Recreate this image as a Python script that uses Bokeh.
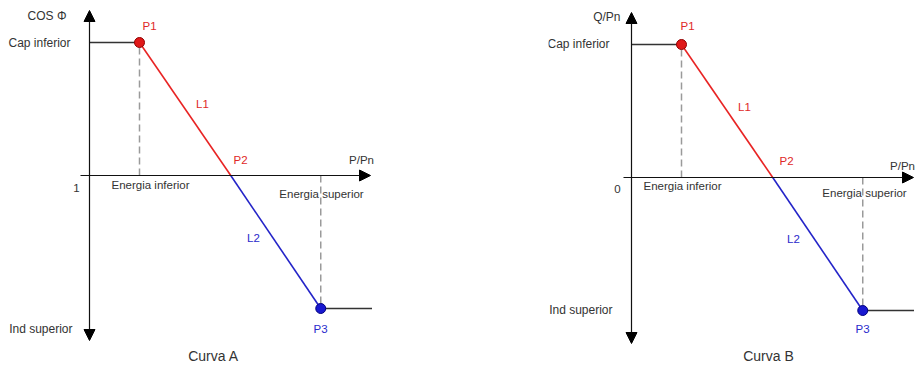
from bokeh.plotting import figure
from bokeh.layouts import row
from bokeh.models import Range1d, Arrow, NormalHead
from bokeh.core.properties import value
from bokeh.embed import file_html
from bokeh.resources import INLINE

# ---- data (schematic values, P/Pn on x, setpoint on y) ----
point_names = ["P1", "P2", "P3"]
point_x = [0.2, 0.565, 0.925]        # Energia inferior, P2, Energia superior
point_y = [1.0, 0.0, -1.0]           # Cap inferior, axis, Ind superior
x_end_values = [1.13, 1.13]          # end of the flat right segment per curve
curve_titles = ["Curva A", "Curva B"]
y_axis_titles = ["COS Φ", "Q/Pn"]
origin_labels = ["1", "0"]
level_labels = ["Cap inferior", "Ind superior"]
energy_labels = ["Energia inferior", "Energia superior"]
segment_labels = ["L1", "L2"]

H = 365
SX = 250.0   # px per unit x
SY = 133.0   # px per unit y
FONT = value("Liberation Sans")
DARK = "#333333"
RED = "#e02828"
BLUE = "#2a2acc"


def make_panel(i, width, ox, oy, lay):
    p = figure(width=width, height=H,
               x_range=Range1d(-ox / SX, (width - ox) / SX),
               y_range=Range1d(-(H - oy) / SY, oy / SY),
               toolbar_location=None, output_backend="svg",
               x_axis_type=None, y_axis_type=None, min_border=0,
               outline_line_color=None, background_fill_color="white",
               border_fill_color="white")
    p.xgrid.visible = False
    p.ygrid.visible = False

    def X(px):
        return px / SX

    def Y(py):
        return py / SY

    ei, p2, es = point_x
    cap, zero, ind = point_y

    # axes with arrowheads
    p.add_layout(Arrow(end=NormalHead(size=11, fill_color="black", line_color="black"),
                       start=None, x_start=X(lay["x_axis_start"]), y_start=0,
                       x_end=X(lay["x_axis_end"]), y_end=0,
                       line_color="#111111", line_width=1.2))
    p.add_layout(Arrow(end=NormalHead(size=11, fill_color="black", line_color="black"),
                       start=NormalHead(size=11, fill_color="black", line_color="black"),
                       x_start=0, y_start=Y(lay["y_axis_bottom"]),
                       x_end=0, y_end=Y(lay["y_axis_top"]),
                       line_color="#111111", line_width=1.2))

    # dashed drop lines
    p.segment(x0=[ei, es], y0=[zero, zero], x1=[ei, es], y1=[cap, ind],
              line_color="#9a9a9a", line_width=1.5, line_dash="7 4")

    # flat segments
    p.line([0, ei], [cap, cap], line_color="#333333", line_width=1.6)
    p.line([es, x_end_values[i]], [ind, ind], line_color="#333333", line_width=1.6)

    # sloped segments
    p.line([ei, p2], [cap, zero], line_color="#e82424", line_width=1.6)
    p.line([p2, es], [zero, ind], line_color="#2424c8", line_width=1.6)

    # points
    p.scatter([ei], [cap], size=10, fill_color="#e01818", line_color="#900000", line_width=1)
    p.scatter([es], [ind], size=10, fill_color="#1818d0", line_color="#000080", line_width=1)

    def txt(items, color, align, size="11.5px"):
        p.text(x=[X(a) for a, b, t in items], y=[Y(b) for a, b, t in items],
               text=[t for a, b, t in items], text_align=align,
               text_baseline="middle", text_font=FONT, text_font_size=size,
               text_color=color)

    # left labels (right-aligned)
    txt([(lay["ytitle"][0], lay["ytitle"][1], y_axis_titles[i]),
         (lay["cap"][0], lay["cap"][1], level_labels[0]),
         (lay["ind"][0], lay["ind"][1], level_labels[1])], DARK, "right", "12px")
    txt([(lay["origin"][0], lay["origin"][1], origin_labels[i]),
         (lay["einf"][0], lay["einf"][1], energy_labels[0]),
         (lay["esup"][0], lay["esup"][1], energy_labels[1])], DARK, "center")
    txt([(lay["ppn"][0], lay["ppn"][1], "P/Pn")], DARK, "center")
    txt([(lay["P1"][0], lay["P1"][1], point_names[0]),
         (lay["L1"][0], lay["L1"][1], segment_labels[0]),
         (lay["P2"][0], lay["P2"][1], point_names[1])], RED, "center")
    txt([(lay["L2"][0], lay["L2"][1], segment_labels[1]),
         (lay["P3"][0], lay["P3"][1], point_names[2])], BLUE, "center")
    txt([(lay["title"][0], lay["title"][1], curve_titles[i])], DARK, "center", "14px")
    return p


lay_a = dict(x_axis_start=-9, x_axis_end=281, y_axis_top=165, y_axis_bottom=-165,
             ytitle=(-23, 160), cap=(-19, 133), ind=(-17, -153), origin=(-13, -12),
             einf=(61, -9), esup=(232, -18), ppn=(272, 16),
             P1=(60, 150), L1=(113, 72), P2=(151, 16), L2=(164, -62), P3=(231, -153),
             title=(124, -180))
lay_b = dict(x_axis_start=-8, x_axis_end=282, y_axis_top=165, y_axis_bottom=-166,
             ytitle=(-11, 161), cap=(-22, 134), ind=(-19, -132), origin=(-14, -11),
             einf=(51, -8), esup=(233, -15), ppn=(271, 12),
             P1=(56, 152), L1=(113, 71), P2=(155, 17), L2=(162, -61), P3=(231, -151),
             title=(137, -178))

pa = make_panel(0, 548, 89, 175, lay_a)
pb = make_panel(1, 367, 83, 177, lay_b)
layout = row(pa, pb)

open("out.html", "w").write(file_html(layout, INLINE))
